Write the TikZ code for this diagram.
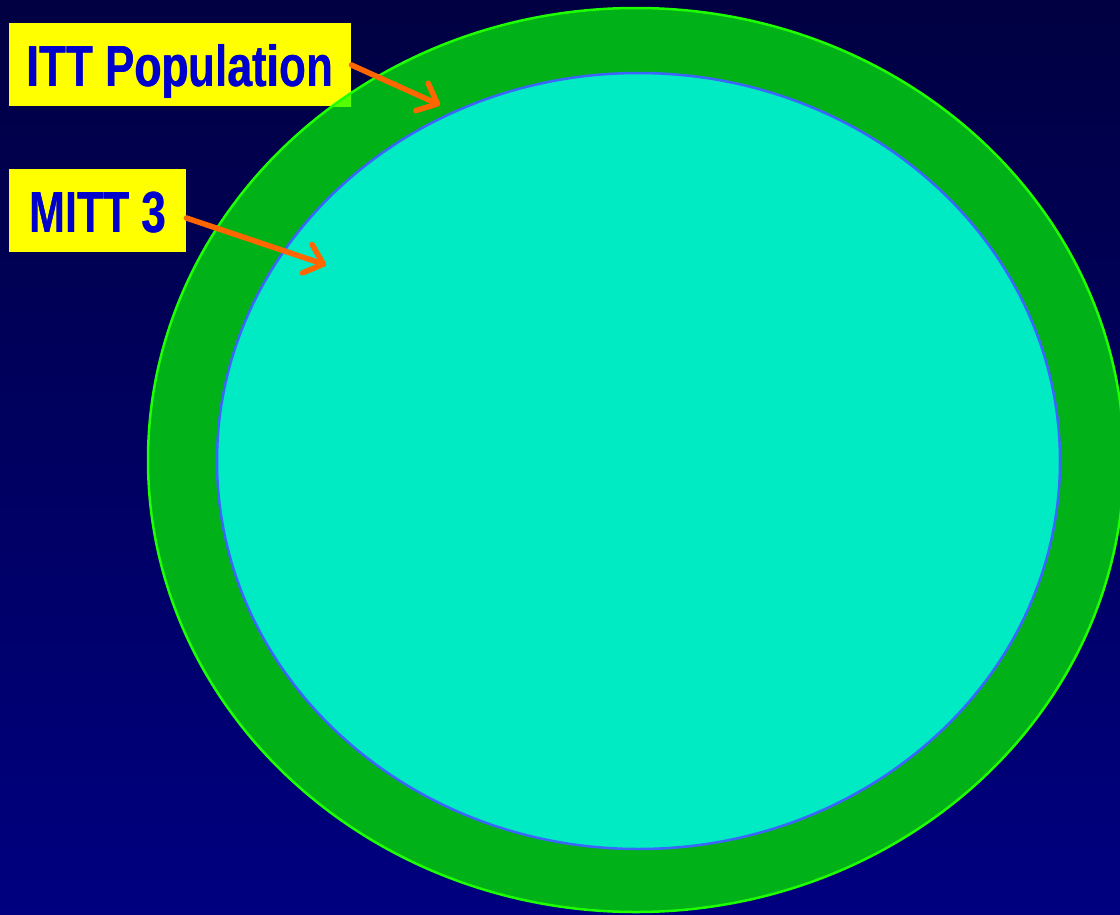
\documentclass[tikz,border=0pt]{standalone}
\usepackage{fontspec}
\setmainfont{Liberation Sans}
\usetikzlibrary{arrows.meta}
\definecolor{bgtop}{RGB}{0,0,66}
\definecolor{bgbot}{RGB}{0,0,128}
\definecolor{ringgreen}{RGB}{0,178,24}
\definecolor{ringedge}{RGB}{30,255,0}
\definecolor{innerfill}{RGB}{0,235,196}
\definecolor{inneredge}{RGB}{60,100,255}
\definecolor{labelyellow}{RGB}{255,255,0}
\definecolor{labeltext}{RGB}{0,0,204}
\definecolor{arroworange}{RGB}{255,102,0}
\definecolor{overlapgreen}{RGB}{85,255,0}
\newcommand\heavytext[1]{\rlap{#1}\hspace{0.6pt}#1}
\tikzset{
  labelbox/.style={fill=labelyellow, draw=none, anchor=north west, inner sep=0pt,
    text=labeltext, font=\fontsize{58}{62}\selectfont\bfseries,
    text height=40pt, text depth=0pt, minimum height=83pt},
  pointer/.style={draw=arroworange, line width=5.5pt, line cap=round,
    -{Straight Barb[length=17pt,width=30pt,line width=5.5pt,round]}},
}
\begin{document}
\begin{tikzpicture}[x=1pt,y=-1pt]
\useasboundingbox (0,0) rectangle (1120,914);
\shade[top color=bgtop, bottom color=bgbot] (0,0) rectangle (1120,914);
% outer ring
\fill[ringgreen] (636,460) ellipse [x radius=488, y radius=452];
% label boxes
\node[labelbox, minimum width=342pt] (itt) at (9,23)
  {\raisebox{-1.5pt}{\scalebox{0.76}[1]{\heavytext{ITT Population}}}};
\node[labelbox, minimum width=177pt] (mitt) at (9,169)
  {\raisebox{-1.5pt}{\scalebox{0.745}[1]{\heavytext{MITT 3}}}};
% overlap of box corner with ring
\begin{scope}
  \clip (9,23) rectangle (351,106);
  \fill[overlapgreen] (636,460) ellipse [x radius=488, y radius=452];
\end{scope}
\draw[ringedge, line width=2.5pt] (636,460) ellipse [x radius=488, y radius=452];
% inner region
\fill[innerfill] (638.5,461) ellipse [x radius=421.5, y radius=388];
\draw[inneredge, line width=2.5pt] (638.5,461) ellipse [x radius=421.5, y radius=388];
% arrows
\coordinate (ittend) at (440,105);
\coordinate (mittend) at (326,265);
\draw[pointer] (itt.east |- 0,65) -- (ittend);
\draw[pointer] (mitt.east |- 0,218) -- (mittend);
\end{tikzpicture}
\end{document}
